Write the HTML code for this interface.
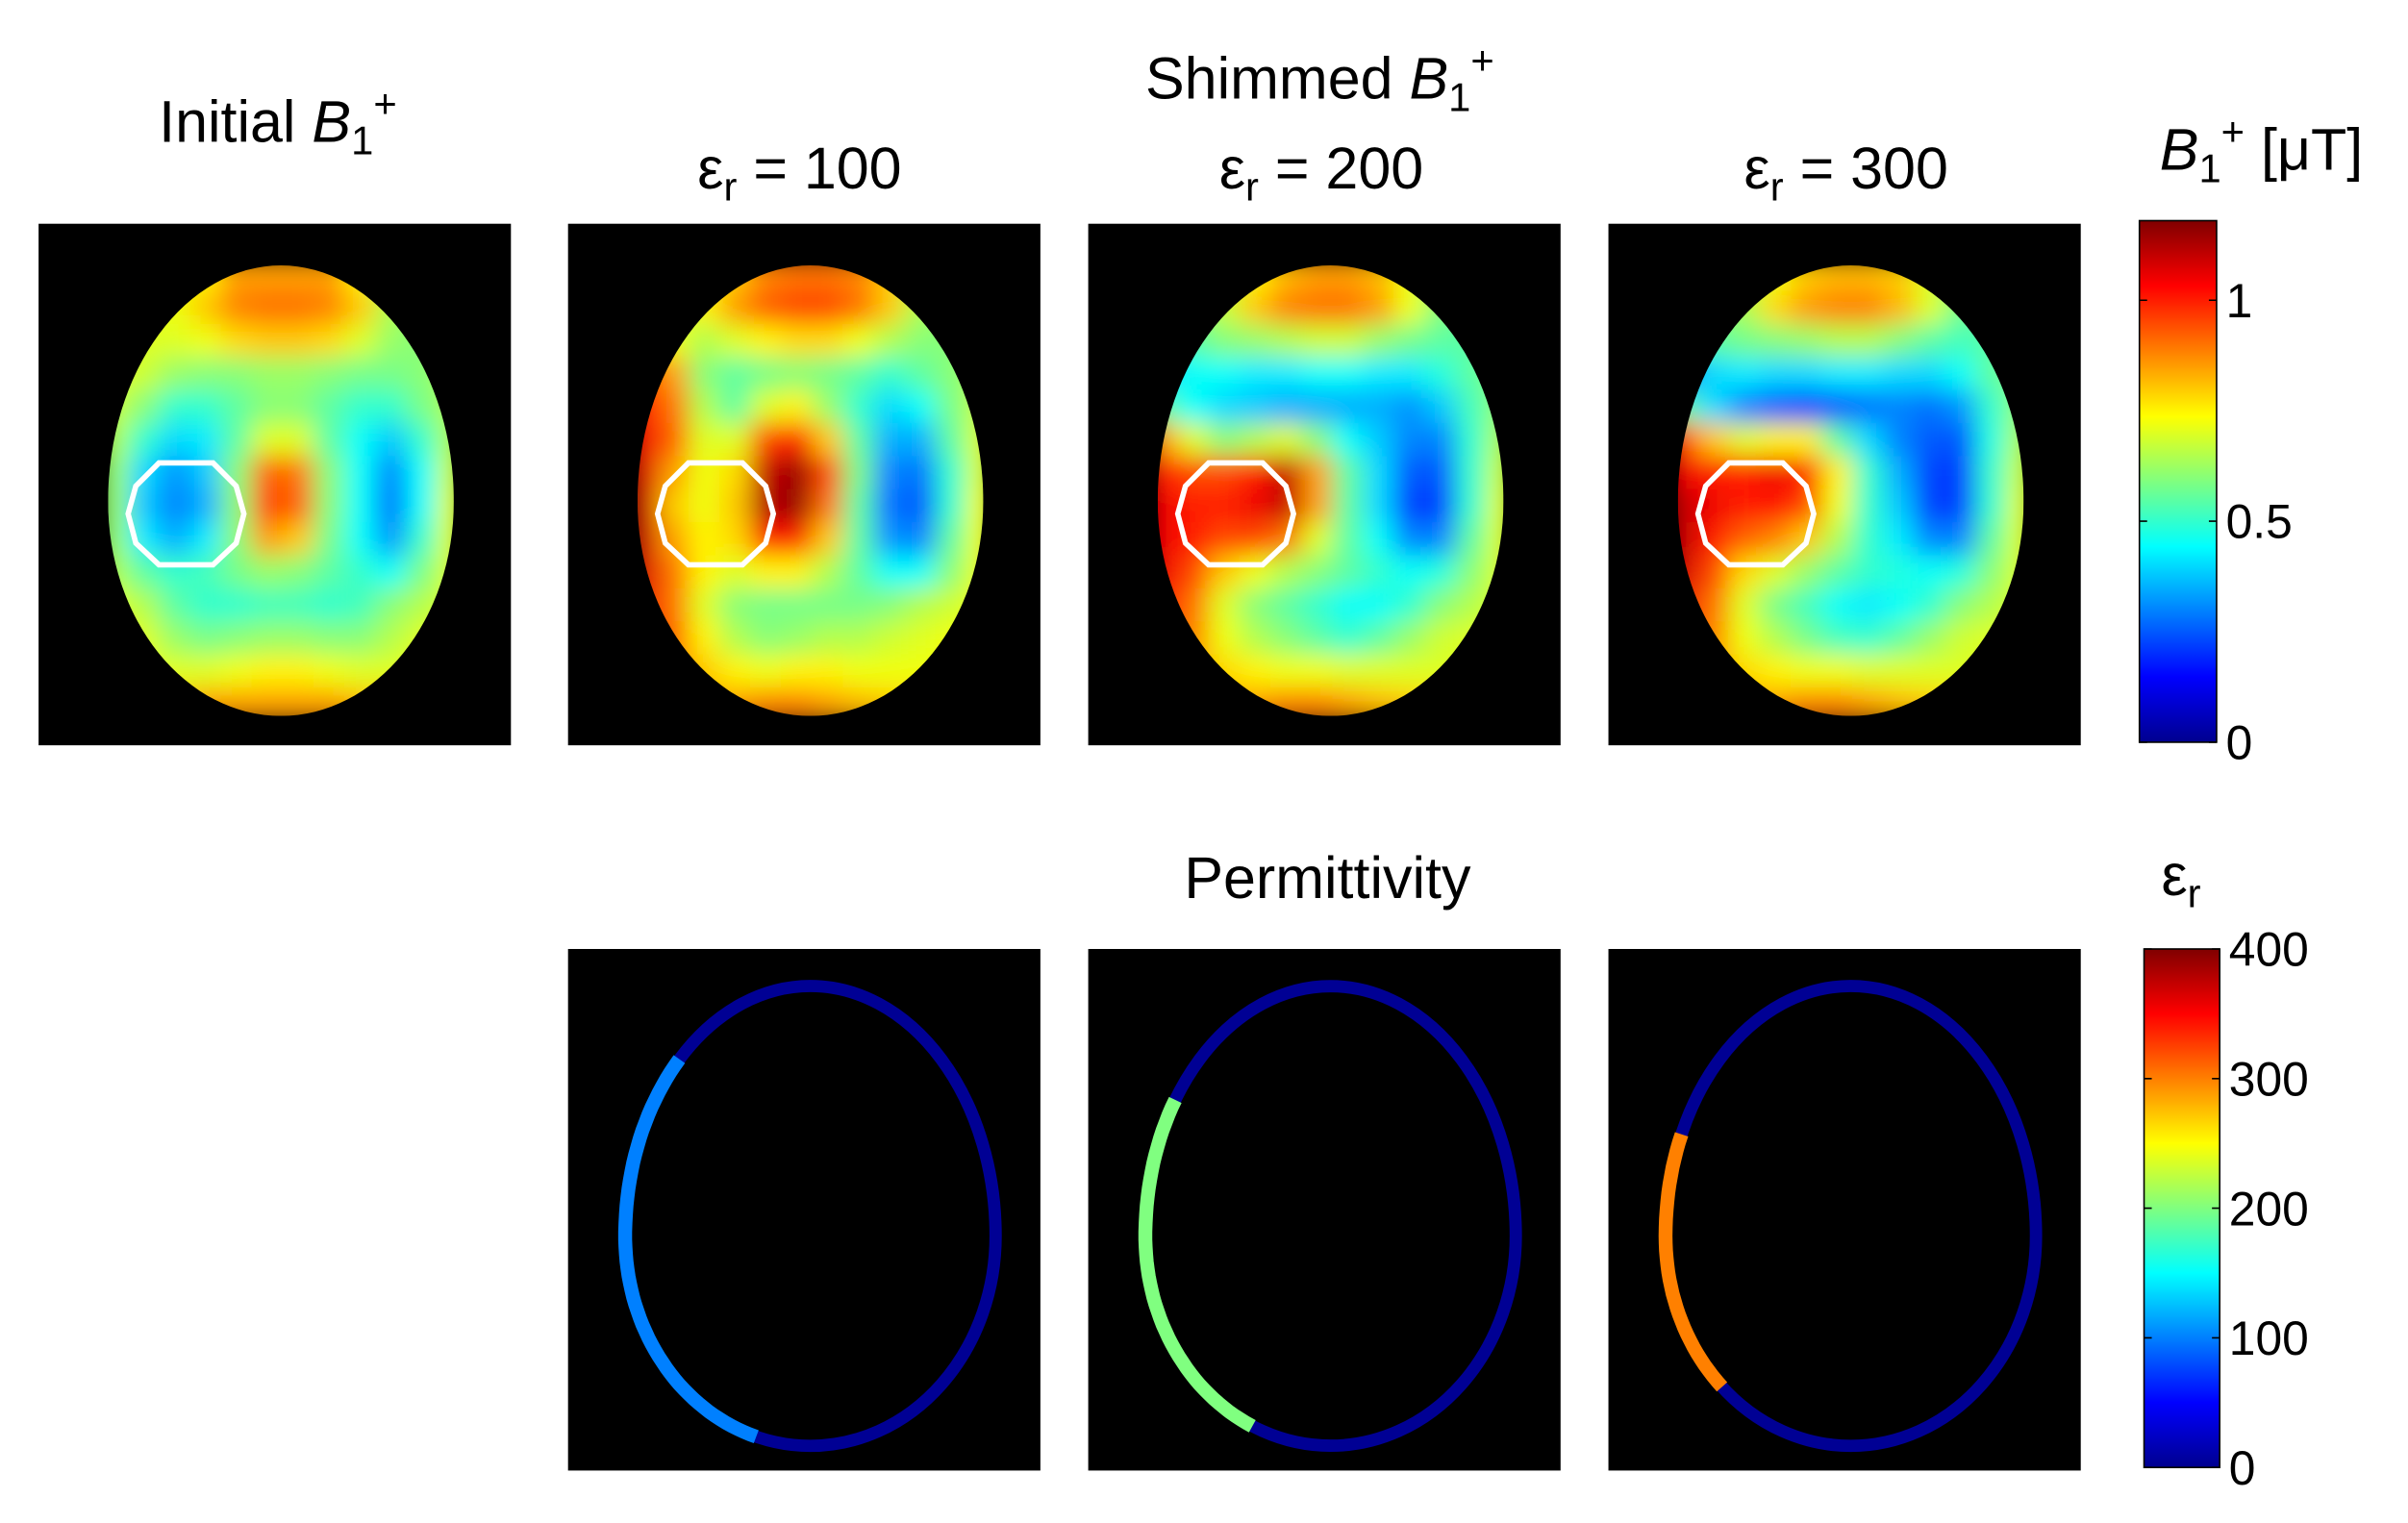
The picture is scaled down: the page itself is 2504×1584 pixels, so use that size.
<!DOCTYPE html>
<html><head><meta charset="utf-8">
<style>
html,body{margin:0;padding:0;background:#fff;}
svg{display:block;}
text{font-family:"Liberation Sans",sans-serif;fill:#000;}
</style></head>
<body>
<svg id="fig" xmlns="http://www.w3.org/2000/svg" width="2504" height="1584" viewBox="0 0 1560 987" preserveAspectRatio="none">
<defs>
<linearGradient id="jetV" x1="0" y1="1" x2="0" y2="0">
<stop offset="0" stop-color="#00008f"/><stop offset="0.125" stop-color="#0000ff"/>
<stop offset="0.375" stop-color="#00ffff"/><stop offset="0.625" stop-color="#ffff00"/>
<stop offset="0.875" stop-color="#ff0000"/><stop offset="1" stop-color="#800000"/>
</linearGradient>
</defs>
<g id="titles">
<text x="180" y="92" font-size="38" text-anchor="middle">Initial <tspan font-style="italic">B</tspan><tspan font-size="26" dy="8">1</tspan><tspan font-size="26" dy="-24">+</tspan></text>
<text x="855" y="64" font-size="38" text-anchor="middle">Shimmed <tspan font-style="italic">B</tspan><tspan font-size="26" dy="8">1</tspan><tspan font-size="26" dy="-24">+</tspan></text>
<text x="518" y="122" font-size="38" text-anchor="middle">ε<tspan font-size="26" dy="8">r</tspan><tspan dy="-8"> = 100</tspan></text>
<text x="856" y="122" font-size="38" text-anchor="middle">ε<tspan font-size="26" dy="8">r</tspan><tspan dy="-8"> = 200</tspan></text>
<text x="1196" y="122" font-size="38" text-anchor="middle">ε<tspan font-size="26" dy="8">r</tspan><tspan dy="-8"> = 300</tspan></text>
<text x="1465" y="110" font-size="38" text-anchor="middle"><tspan font-style="italic">B</tspan><tspan font-size="26" dy="8">1</tspan><tspan font-size="26" dy="-24">+</tspan><tspan dy="16"> [μT]</tspan></text>
<text x="860" y="582" font-size="38" text-anchor="middle">Permittivity</text>
<text x="1413" y="580" font-size="38" text-anchor="middle">ε<tspan font-size="26" dy="8">r</tspan></text>
</g>
<g id="maps"></g>
<g id="rings"></g>
<g id="cbars"></g>
</svg>
<script>
const NS="http://www.w3.org/2000/svg";
// ---- data ----
const b1Initial=[
[0.7,0.7,0.7,0.75,0.85,0.85,0.85,0.85,0.75,0.65,0.6,0.6],
[0.7,0.7,0.72,0.8,0.88,0.9,0.9,0.88,0.8,0.65,0.6,0.6],
[0.7,0.7,0.7,0.72,0.78,0.8,0.8,0.78,0.7,0.62,0.6,0.6],
[0.7,0.68,0.62,0.6,0.6,0.62,0.62,0.6,0.58,0.58,0.6,0.65],
[0.68,0.6,0.5,0.5,0.55,0.6,0.6,0.55,0.5,0.5,0.58,0.65],
[0.65,0.5,0.4,0.42,0.55,0.7,0.7,0.55,0.45,0.38,0.5,0.65],
[0.62,0.4,0.32,0.38,0.6,0.92,0.9,0.6,0.45,0.3,0.45,0.68],
[0.62,0.38,0.3,0.35,0.6,0.95,0.92,0.6,0.45,0.28,0.45,0.7],
[0.62,0.42,0.35,0.42,0.6,0.85,0.8,0.58,0.45,0.32,0.5,0.7],
[0.65,0.55,0.5,0.52,0.58,0.62,0.6,0.55,0.5,0.45,0.58,0.7],
[0.7,0.65,0.55,0.5,0.5,0.52,0.52,0.5,0.52,0.6,0.65,0.7],
[0.72,0.7,0.62,0.58,0.6,0.62,0.62,0.6,0.6,0.65,0.7,0.72],
[0.75,0.72,0.7,0.7,0.72,0.75,0.75,0.72,0.7,0.7,0.72,0.75],
[0.8,0.8,0.8,0.85,0.85,0.85,0.85,0.85,0.82,0.8,0.78,0.78]];
const b1Eps100=[
[0.65,0.65,0.7,0.8,0.88,0.9,0.9,0.88,0.8,0.65,0.6,0.6],
[0.65,0.68,0.75,0.85,0.92,0.95,0.95,0.9,0.8,0.65,0.6,0.6],
[0.8,0.72,0.65,0.7,0.75,0.78,0.78,0.72,0.65,0.6,0.6,0.62],
[0.95,0.85,0.6,0.55,0.58,0.6,0.58,0.55,0.5,0.55,0.6,0.65],
[1.0,0.9,0.65,0.55,0.7,0.75,0.62,0.5,0.4,0.45,0.58,0.68],
[1.05,0.92,0.7,0.7,0.95,1.0,0.8,0.55,0.35,0.35,0.55,0.7],
[1.08,0.85,0.72,0.78,1.1,1.15,0.95,0.58,0.3,0.28,0.5,0.7],
[1.1,0.8,0.72,0.8,1.12,1.15,0.9,0.55,0.28,0.25,0.5,0.72],
[1.1,0.85,0.75,0.78,1.0,1.0,0.8,0.55,0.32,0.3,0.55,0.72],
[1.08,0.9,0.75,0.7,0.75,0.75,0.65,0.55,0.45,0.45,0.6,0.72],
[1.05,0.9,0.7,0.6,0.58,0.58,0.58,0.58,0.6,0.65,0.68,0.72],
[1.05,0.92,0.75,0.65,0.6,0.62,0.65,0.65,0.68,0.7,0.72,0.72],
[0.95,0.9,0.8,0.75,0.72,0.75,0.75,0.72,0.72,0.72,0.72,0.72],
[0.85,0.85,0.85,0.85,0.88,0.88,0.85,0.82,0.8,0.78,0.75,0.75]];
const b1Eps200=[
[0.55,0.6,0.65,0.75,0.82,0.85,0.85,0.82,0.72,0.6,0.55,0.55],
[0.55,0.6,0.68,0.8,0.88,0.9,0.9,0.85,0.72,0.6,0.55,0.55],
[0.45,0.55,0.6,0.62,0.65,0.68,0.68,0.62,0.58,0.55,0.55,0.6],
[0.4,0.45,0.45,0.42,0.42,0.45,0.45,0.42,0.42,0.48,0.55,0.6],
[0.55,0.45,0.4,0.38,0.35,0.35,0.35,0.35,0.32,0.38,0.52,0.62],
[0.85,0.7,0.6,0.65,0.7,0.6,0.45,0.38,0.3,0.3,0.5,0.65],
[1.0,0.95,0.95,1.0,1.1,0.85,0.55,0.4,0.25,0.25,0.5,0.68],
[1.05,1.0,1.0,1.05,1.1,0.85,0.55,0.4,0.22,0.22,0.5,0.7],
[1.05,1.0,0.95,0.95,0.9,0.7,0.55,0.45,0.3,0.3,0.55,0.7],
[1.05,0.95,0.8,0.72,0.65,0.6,0.55,0.5,0.45,0.48,0.6,0.7],
[1.02,0.9,0.7,0.6,0.55,0.5,0.45,0.45,0.5,0.6,0.65,0.7],
[1.0,0.88,0.72,0.65,0.6,0.55,0.5,0.55,0.62,0.68,0.7,0.7],
[0.92,0.85,0.78,0.75,0.72,0.72,0.7,0.7,0.7,0.7,0.7,0.7],
[0.85,0.85,0.85,0.85,0.88,0.88,0.85,0.82,0.8,0.78,0.75,0.75]];
const b1Eps300=[
[0.55,0.6,0.65,0.72,0.8,0.82,0.82,0.8,0.7,0.6,0.55,0.55],
[0.55,0.6,0.65,0.78,0.85,0.88,0.88,0.82,0.7,0.58,0.55,0.55],
[0.5,0.55,0.58,0.6,0.62,0.65,0.65,0.6,0.55,0.52,0.55,0.6],
[0.3,0.4,0.42,0.4,0.4,0.42,0.42,0.4,0.4,0.45,0.55,0.6],
[0.55,0.4,0.3,0.25,0.22,0.25,0.28,0.3,0.28,0.32,0.5,0.62],
[0.95,0.8,0.7,0.75,0.75,0.55,0.4,0.3,0.25,0.25,0.48,0.65],
[1.05,1.0,1.0,1.05,1.0,0.75,0.5,0.35,0.22,0.22,0.5,0.68],
[1.1,1.05,1.0,1.02,0.95,0.72,0.5,0.38,0.22,0.22,0.5,0.7],
[1.1,1.0,0.92,0.88,0.8,0.65,0.5,0.42,0.3,0.3,0.55,0.7],
[1.08,0.95,0.78,0.7,0.62,0.55,0.5,0.48,0.45,0.48,0.6,0.7],
[1.05,0.9,0.7,0.58,0.52,0.45,0.42,0.45,0.5,0.6,0.65,0.7],
[1.0,0.88,0.72,0.65,0.58,0.52,0.5,0.55,0.62,0.68,0.7,0.7],
[0.92,0.85,0.78,0.75,0.72,0.72,0.7,0.7,0.7,0.7,0.7,0.7],
[0.85,0.85,0.85,0.85,0.88,0.88,0.85,0.82,0.8,0.78,0.75,0.75]];
const b1Maps=[b1Initial,b1Eps100,b1Eps200,b1Eps300];
const b1Names=["initial","eps100","eps200","eps300"];
const padPermittivity=[100,200,300];
const padArcStartDeg=[107,115,134];
const padArcEndDeg=[225,213,204];
const b1Ticks=[0,0.5,1];
const b1TickLabels=["0","0.5","1"];
const epsTicks=[0,100,200,300,400];
const epsTickLabels=["0","100","200","300","400"];
const B1MAX=1.18, EPSMAX=400;
// ---- layout ----
const topX=[25,368,705,1042], topY=145, PW=306, PH=338;
const botX=[368,705,1042], botY=615;
function jet(t){t=Math.max(0,Math.min(1,t));
 const f=(x)=>Math.max(0,Math.min(1,1.5-Math.abs(4*t-x)));
 return "rgb("+Math.round(255*f(3))+","+Math.round(255*f(2))+","+Math.round(255*f(1))+")";}
function eggPath(cx,cy,rx,ryTop,ryBot){
 return 'M'+(cx-rx)+','+cy+' A'+rx+','+ryTop+' 0 0 1 '+(cx+rx)+','+cy+' A'+rx+','+ryBot+' 0 0 1 '+(cx-rx)+','+cy+' Z';}
const maps=document.getElementById('maps');
b1Maps.forEach((grid,pi)=>{
 const x0=topX[pi], y0=topY;
 const g=document.createElementNS(NS,'g');
 
 
 const bg=document.createElementNS(NS,'rect');
 bg.setAttribute('x',x0);bg.setAttribute('y',y0);bg.setAttribute('width',PW);bg.setAttribute('height',PH);bg.setAttribute('fill','#000');
 
 
 g.appendChild(bg);
 const cid='clip'+pi, fid='blur'+pi;
 const defs=document.createElementNS(NS,'defs');
 const gx0=x0+38, gy0=y0+22, gw=240, gh=300;
 defs.innerHTML='<clipPath id="'+cid+'"><path d="'+eggPath(x0+157,y0+180,112,153,139)+'"/></clipPath>'+
 '<filter id="'+fid+'" filterUnits="userSpaceOnUse" x="'+gx0+'" y="'+gy0+'" width="'+gw+'" height="'+gh+'"><feGaussianBlur stdDeviation="8" edgeMode="duplicate"/></filter>';
 g.appendChild(defs);
 const cg=document.createElementNS(NS,'g');cg.setAttribute('clip-path','url(#'+cid+')');
 const fg=document.createElementNS(NS,'g');fg.setAttribute('filter','url(#'+fid+')');
 const rows=grid.length, cols=grid[0].length, cw=gw/cols, ch=gh/rows;
 grid.forEach((row,r)=>row.forEach((v,c)=>{
  const cell=document.createElementNS(NS,'rect');
  cell.setAttribute('x',gx0+c*cw);cell.setAttribute('y',gy0+r*ch);
  cell.setAttribute('width',cw+0.6);cell.setAttribute('height',ch+0.6);
  cell.setAttribute('fill',jet(v/B1MAX));
  
  
  fg.appendChild(cell);}));
 cg.appendChild(fg);g.appendChild(cg);
 const ox=x0+58, oy=y0+155;
 const pts=[[20,0],[55,0],[70,15],[75,33],[70,52],[55,66],[20,66],[5,52],[0,33],[5,15]];
 const roi=document.createElementNS(NS,'polygon');
 roi.setAttribute('points',pts.map(p=>(ox+p[0])+','+(oy+p[1])).join(' '));
 roi.setAttribute('fill','none');roi.setAttribute('stroke','#fff');roi.setAttribute('stroke-width','3.5');
 
 
 g.appendChild(roi);
 maps.appendChild(g);
});
// ---- permittivity rings ----
const rings=document.getElementById('rings');
padPermittivity.forEach((eps,i)=>{
 const x0=botX[i], y0=botY;
 const g=document.createElementNS(NS,'g');
 
 
 const bg=document.createElementNS(NS,'rect');
 bg.setAttribute('x',x0);bg.setAttribute('y',y0);bg.setAttribute('width',PW);bg.setAttribute('height',PH);bg.setAttribute('fill','#000');
 
 
 g.appendChild(bg);
 const cx=x0+157, cy=y0+186, rx=120, ryT=162, ryB=136;
 const ring=document.createElementNS(NS,'path');
 ring.setAttribute('d',eggPath(cx,cy,rx,ryT,ryB));
 ring.setAttribute('fill','none');ring.setAttribute('stroke',jet(8/EPSMAX));ring.setAttribute('stroke-width','8');
 
 
 g.appendChild(ring);
 const a0=padArcStartDeg[i], a1=padArcEndDeg[i];
 const pts=[];
 for(let a=a0;a<=a1;a+=2){const t=a*Math.PI/180;const s=Math.sin(t);
  pts.push((cx+rx*Math.cos(t)).toFixed(1)+','+(cy+(s<0?ryT:ryB)*s).toFixed(1));}
 const arc=document.createElementNS(NS,'polyline');
 arc.setAttribute('points',pts.join(' '));
 arc.setAttribute('fill','none');arc.setAttribute('stroke',jet(eps/EPSMAX));arc.setAttribute('stroke-width','9');
 
 
 g.appendChild(arc);
 rings.appendChild(g);
});
// ---- colorbars ----
const cb=document.getElementById('cbars');
function colorbar(name,x,y,w,h,ticks,labels,max){
 const g=document.createElementNS(NS,'g');
 
 
 const r=document.createElementNS(NS,'rect');
 r.setAttribute('x',x);r.setAttribute('y',y);r.setAttribute('width',w);r.setAttribute('height',h);
 r.setAttribute('fill','url(#jetV)');r.setAttribute('stroke','#000');r.setAttribute('stroke-width','1');
 
 
 g.appendChild(r);
 ticks.forEach((t,k)=>{
  const ty=y+h-(t/max)*h;
  const l=document.createElementNS(NS,'path');
  l.setAttribute('d','M'+x+','+ty+' h5 M'+(x+w)+','+ty+' h-5');l.setAttribute('stroke','#000');
  
  
  g.appendChild(l);
  const tx=document.createElementNS(NS,'text');
  tx.setAttribute('x',x+w+6);tx.setAttribute('y',ty+11);tx.setAttribute('font-size','31');
  tx.textContent=labels[k];
  
  
  g.appendChild(tx);
 });
 cb.appendChild(g);
}
colorbar('b1-colorbar',1386,143,50,338,b1Ticks,b1TickLabels,B1MAX);
colorbar('permittivity-colorbar',1389,615,49,336,epsTicks,epsTickLabels,EPSMAX);
</script>
</body></html>
